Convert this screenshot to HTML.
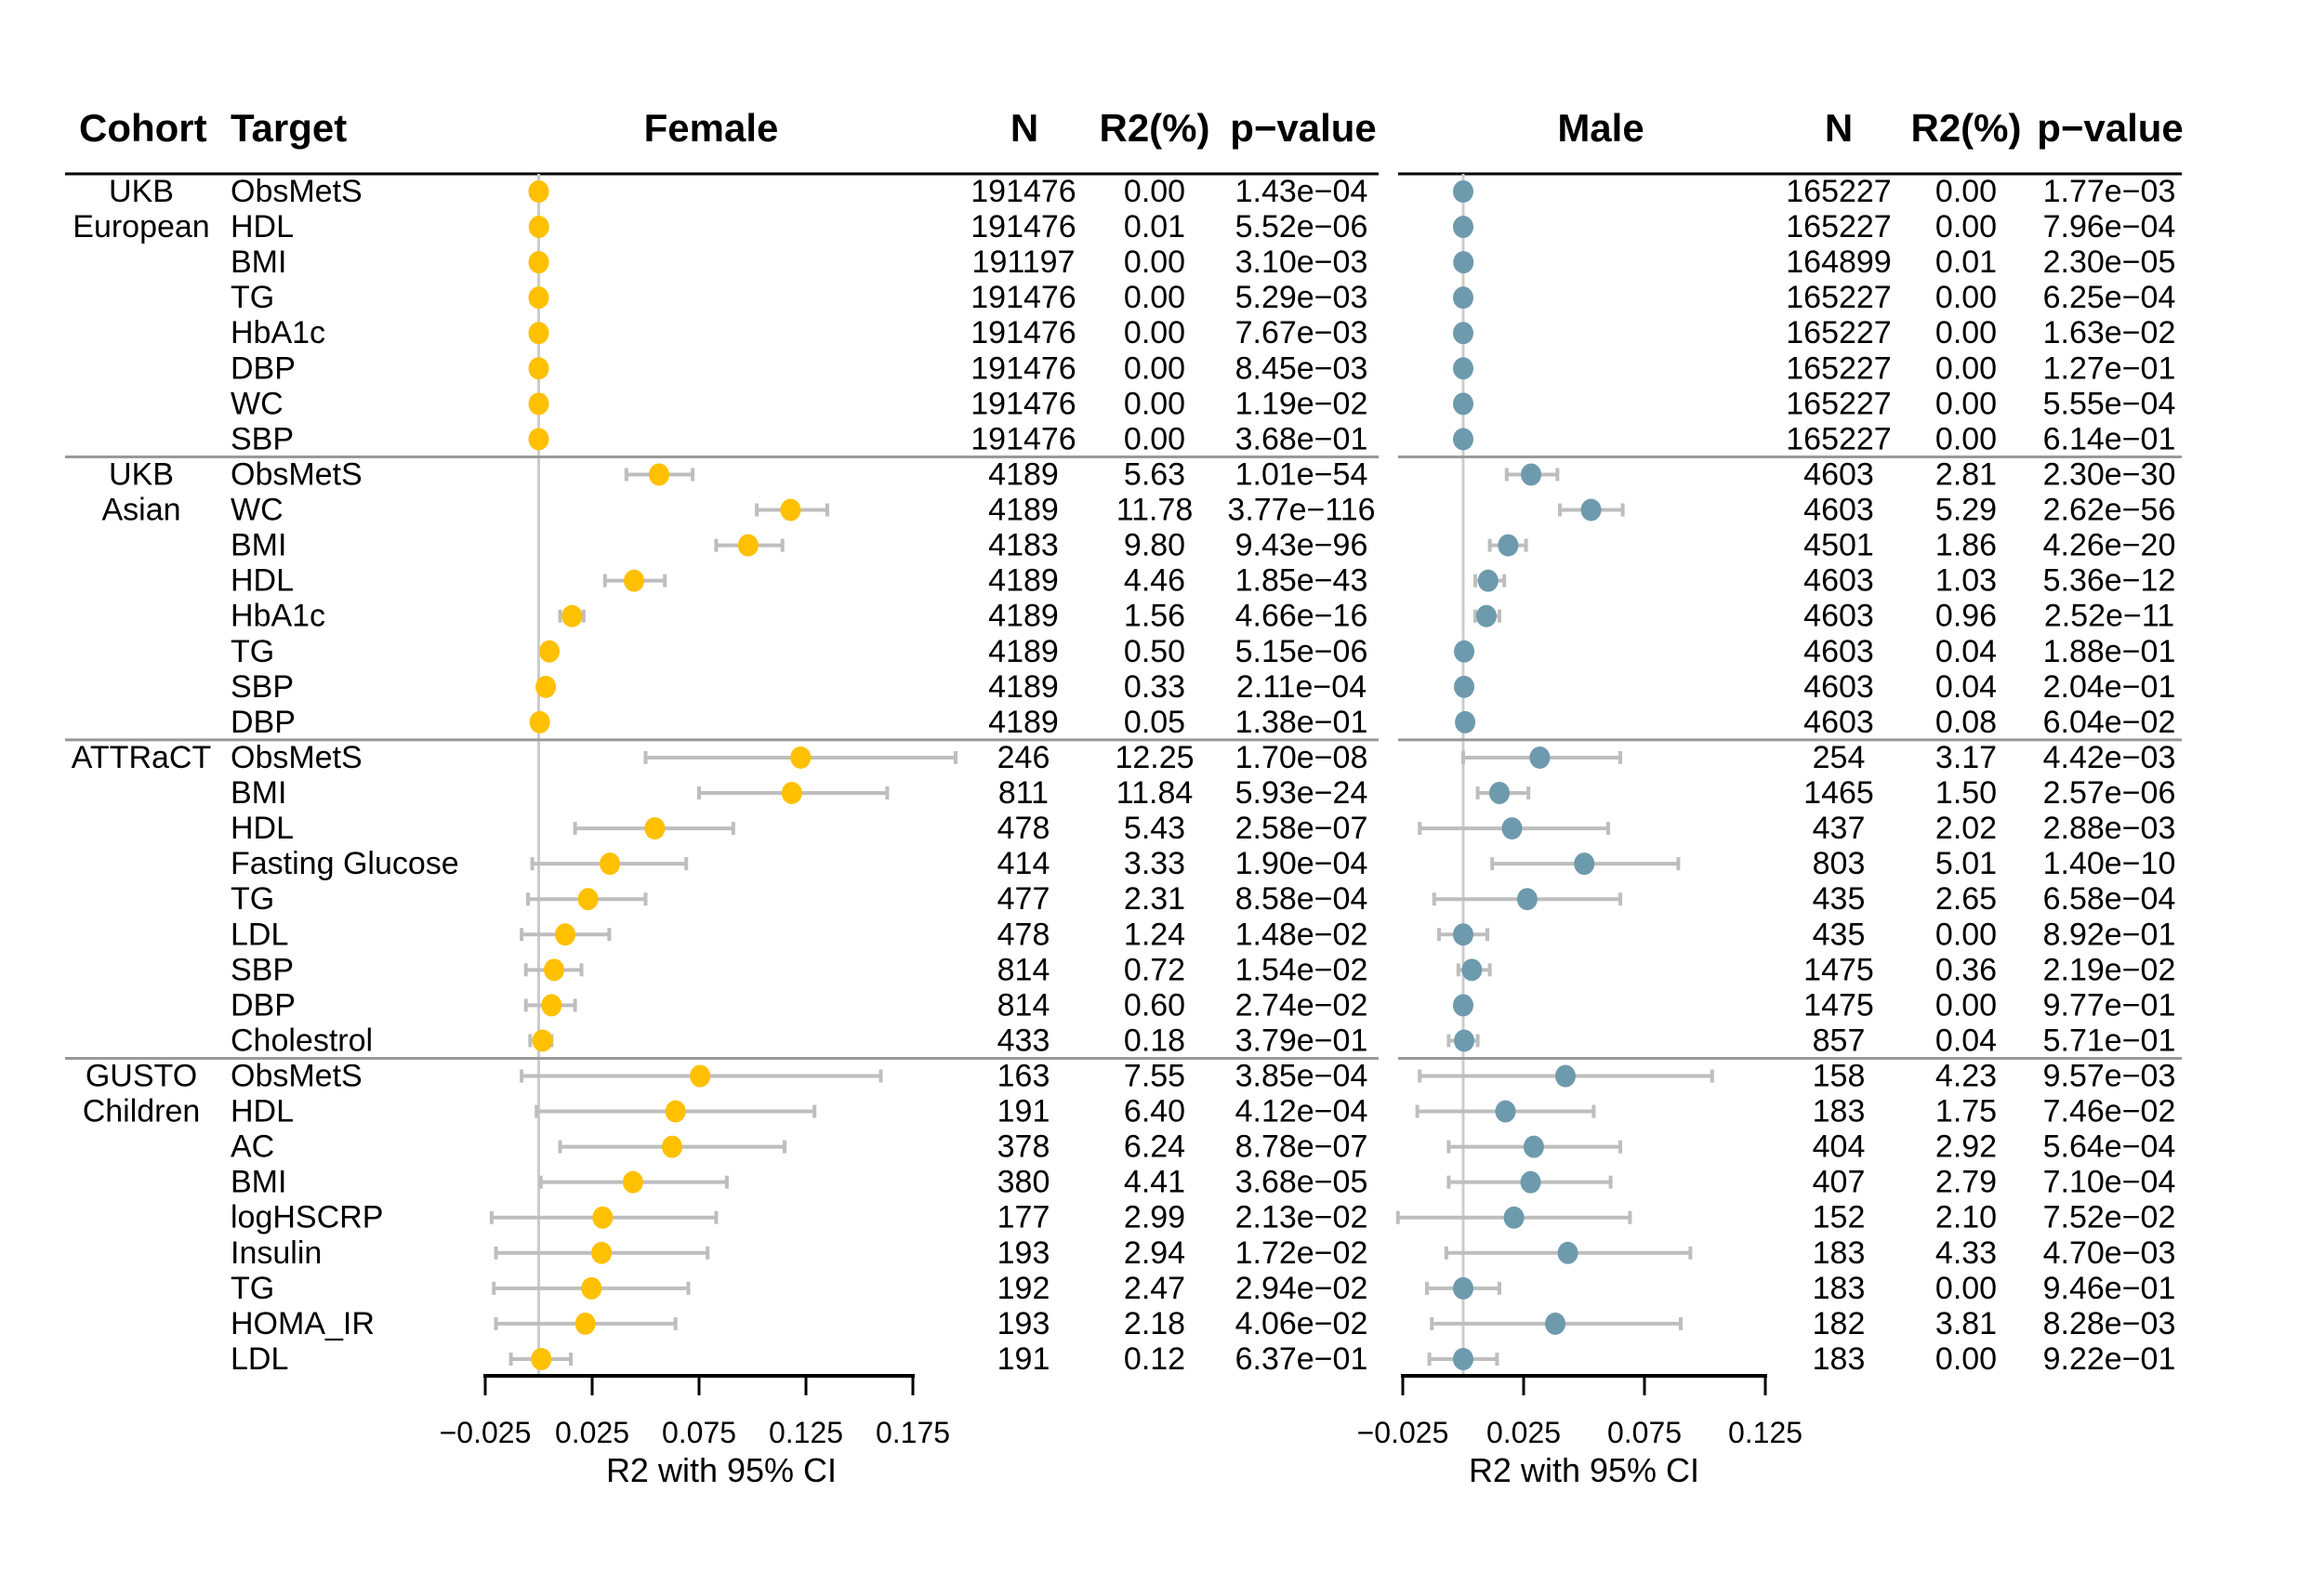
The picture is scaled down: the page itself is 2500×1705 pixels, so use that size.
<!DOCTYPE html>
<html><head><meta charset="utf-8"><style>
html,body{margin:0;padding:0;background:#fff;}
svg text{font-family:"Liberation Sans",Arial,sans-serif;}
</style></head><body>
<svg id="chart" width="2500" height="1700" viewBox="0 0 2500 1700" xmlns="http://www.w3.org/2000/svg">
<rect width="2500" height="1700" fill="#fff"/>
<g font-weight="bold" font-size="42" fill="#000">
<text x="85" y="152">Cohort</text>
<text x="248" y="152">Target</text>
<text x="765" y="152" text-anchor="middle">Female</text>
<text x="1102" y="152" text-anchor="middle">N</text>
<text x="1242" y="152" text-anchor="middle">R2(%)</text>
<text x="1402" y="152" text-anchor="middle">p−value</text>
<text x="1722" y="152" text-anchor="middle">Male</text>
<text x="1978" y="152" text-anchor="middle">N</text>
<text x="2115" y="152" text-anchor="middle">R2(%)</text>
<text x="2270" y="152" text-anchor="middle">p−value</text>
</g>
<line x1="70" x2="1483" y1="187" y2="187" stroke="#000" stroke-width="3"/>
<line x1="1504" x2="2347" y1="187" y2="187" stroke="#000" stroke-width="3"/>
<g id="content"></g>
</svg>
<script>
const cohortLabels = [["UKB","European"],["UKB","Asian"],["ATTRaCT"],["GUSTO","Children"]];
const groupSizes = [8,8,9,9];
const targets = ["ObsMetS","HDL","BMI","TG","HbA1c","DBP","WC","SBP",
 "ObsMetS","WC","BMI","HDL","HbA1c","TG","SBP","DBP",
 "ObsMetS","BMI","HDL","Fasting Glucose","TG","LDL","SBP","DBP","Cholestrol",
 "ObsMetS","HDL","AC","BMI","logHSCRP","Insulin","TG","HOMA_IR","LDL"];
const fN = ["191476","191476","191197","191476","191476","191476","191476","191476",
 "4189","4189","4183","4189","4189","4189","4189","4189",
 "246","811","478","414","477","478","814","814","433",
 "163","191","378","380","177","193","192","193","191"];
const fR2 = ["0.00","0.01","0.00","0.00","0.00","0.00","0.00","0.00",
 "5.63","11.78","9.80","4.46","1.56","0.50","0.33","0.05",
 "12.25","11.84","5.43","3.33","2.31","1.24","0.72","0.60","0.18",
 "7.55","6.40","6.24","4.41","2.99","2.94","2.47","2.18","0.12"];
const fP = ["1.43e−04","5.52e−06","3.10e−03","5.29e−03","7.67e−03","8.45e−03","1.19e−02","3.68e−01",
 "1.01e−54","3.77e−116","9.43e−96","1.85e−43","4.66e−16","5.15e−06","2.11e−04","1.38e−01",
 "1.70e−08","5.93e−24","2.58e−07","1.90e−04","8.58e−04","1.48e−02","1.54e−02","2.74e−02","3.79e−01",
 "3.85e−04","4.12e−04","8.78e−07","3.68e−05","2.13e−02","1.72e−02","2.94e−02","4.06e−02","6.37e−01"];
const fLo = [0,0,0,0,0,0,0,0,
 0.041,0.102,0.083,0.031,0.010,0.003,0.002,0.000,
 0.050,0.075,0.017,-0.003,-0.005,-0.008,-0.006,-0.006,-0.004,
 -0.008,-0.001,0.010,0.001,-0.022,-0.020,-0.021,-0.020,-0.013];
const fHi = [0,0.0001,0,0,0,0,0,0,
 0.072,0.135,0.114,0.059,0.021,0.007,0.005,0.001,
 0.195,0.163,0.091,0.069,0.050,0.033,0.020,0.017,0.006,
 0.160,0.129,0.115,0.088,0.083,0.079,0.070,0.064,0.015];
const mN = ["165227","165227","164899","165227","165227","165227","165227","165227",
 "4603","4603","4501","4603","4603","4603","4603","4603",
 "254","1465","437","803","435","435","1475","1475","857",
 "158","183","404","407","152","183","183","182","183"];
const mR2 = ["0.00","0.00","0.01","0.00","0.00","0.00","0.00","0.00",
 "2.81","5.29","1.86","1.03","0.96","0.04","0.04","0.08",
 "3.17","1.50","2.02","5.01","2.65","0.00","0.36","0.00","0.04",
 "4.23","1.75","2.92","2.79","2.10","4.33","0.00","3.81","0.00"];
const mP = ["1.77e−03","7.96e−04","2.30e−05","6.25e−04","1.63e−02","1.27e−01","5.55e−04","6.14e−01",
 "2.30e−30","2.62e−56","4.26e−20","5.36e−12","2.52e−11","1.88e−01","2.04e−01","6.04e−02",
 "4.42e−03","2.57e−06","2.88e−03","1.40e−10","6.58e−04","8.92e−01","2.19e−02","9.77e−01","5.71e−01",
 "9.57e−03","7.46e−02","5.64e−04","7.10e−04","7.52e−02","4.70e−03","9.46e−01","8.28e−03","9.22e−01"];
const mLo = [0,0,0,0,0,0,0,0,
 0.018,0.040,0.011,0.005,0.005,0,0,0,
 0.000,0.006,-0.018,0.012,-0.012,-0.010,-0.002,0,-0.006,
 -0.018,-0.019,-0.006,-0.006,-0.027,-0.007,-0.015,-0.013,-0.014];
const mHi = [0,0,0.0001,0,0,0,0,0,
 0.039,0.066,0.026,0.017,0.015,0.001,0.001,0.001,
 0.065,0.027,0.060,0.089,0.065,0.010,0.011,0,0.006,
 0.103,0.054,0.065,0.061,0.069,0.094,0.015,0.090,0.014];
const fTicks = [-0.025,0.025,0.075,0.125,0.175];
const mTicks = [-0.025,0.025,0.075,0.125];

const NS = "http://www.w3.org/2000/svg";
const root = document.getElementById('content');
function mk(tag, attrs, parent){const e=document.createElementNS(NS,tag);for(const k in attrs)e.setAttribute(k,attrs[k]);(parent||root).appendChild(e);return e;}
const rowY = i => 206 + i*38.06;
const fx = v => 579.5 + v*2300;
const mx = v => 1574 + v*2600;
const axisY = 1480;

let z1 = mk('line',{x1:fx(0),x2:fx(0),y1:187,y2:axisY,stroke:'#cccccc','stroke-width':3});


let z2 = mk('line',{x1:mx(0),x2:mx(0),y1:187,y2:axisY,stroke:'#cccccc','stroke-width':3});



let start = 0;
groupSizes.forEach((g,gi)=>{
  cohortLabels[gi].forEach((lab,li)=>{
    const t = mk('text',{x:152,y:rowY(start+li)+11,'font-size':34,'text-anchor':'middle'});
    t.textContent = lab;
    
    
  });
  if(gi>0){
    const y = rowY(start-0.5);
    const a = mk('line',{x1:70,x2:1483,y1:y,y2:y,stroke:'#999999','stroke-width':3});
    
    
    const b = mk('line',{x1:1504,x2:2347,y1:y,y2:y,stroke:'#999999','stroke-width':3});
    
    
  }
  start += g;
});

function drawCI(sx, lo, hi, y, name){
  const g = mk('g',{stroke:'#bebebe','stroke-width':4});
  
  
  mk('line',{x1:sx(lo),x2:sx(hi),y1:y,y2:y},g);
  mk('line',{x1:sx(lo),x2:sx(lo),y1:y-7,y2:y+7},g);
  mk('line',{x1:sx(hi),x2:sx(hi),y1:y-7,y2:y+7},g);
}
function txt(x,y,s,name){
  const t = mk('text',{x:x,y:y+11,'font-size':34,'text-anchor':'middle'});
  t.textContent = s;
  
  
}

targets.forEach((tg,i)=>{
  const y = rowY(i);
  const t = mk('text',{x:248,y:y+11,'font-size':34});
  t.textContent = tg;
  
  
  const fv = parseFloat(fR2[i])/100, mv = parseFloat(mR2[i])/100;
  if(fHi[i]-fLo[i] > 0.002) drawCI(fx,fLo[i],fHi[i],y,'female-ci');
  if(mHi[i]-mLo[i] > 0.002) drawCI(mx,mLo[i],mHi[i],y,'male-ci');
  const d1 = mk('ellipse',{cx:fx(fv),cy:y,rx:11,ry:12,fill:'#FFC000'});
  
  
  const d2 = mk('ellipse',{cx:mx(mv),cy:y,rx:11,ry:12,fill:'#6E9AAD'});
  
  
  txt(1101,y,fN[i],'female-n');
  txt(1242,y,fR2[i],'female-r2');
  txt(1400,y,fP[i],'female-p');
  txt(1978,y,mN[i],'male-n');
  txt(2115,y,mR2[i],'male-r2');
  txt(2269,y,mP[i],'male-p');
});

function axis(sx, ticks, name, titleX){
  const g = mk('g',{});
  
  
  mk('line',{x1:sx(ticks[0])-2,x2:sx(ticks[ticks.length-1])+2,y1:axisY,y2:axisY,stroke:'#000','stroke-width':4},g);
  ticks.forEach(v=>{
    mk('line',{x1:sx(v),x2:sx(v),y1:axisY,y2:axisY+21,stroke:'#000','stroke-width':3},g);
    const t = mk('text',{x:sx(v),y:1552,'font-size':32,'text-anchor':'middle'},g);
    t.textContent = (v<0?'−':'') + Math.abs(v).toFixed(3);
    
    
  });
  const tt = mk('text',{x:titleX,y:1594,'font-size':36,'text-anchor':'middle'},g);
  tt.textContent = 'R2 with 95% CI';
  
  
}
axis(fx,fTicks,'female-x-axis',776);
axis(mx,mTicks,'male-x-axis',1704);
</script>
</body></html>
